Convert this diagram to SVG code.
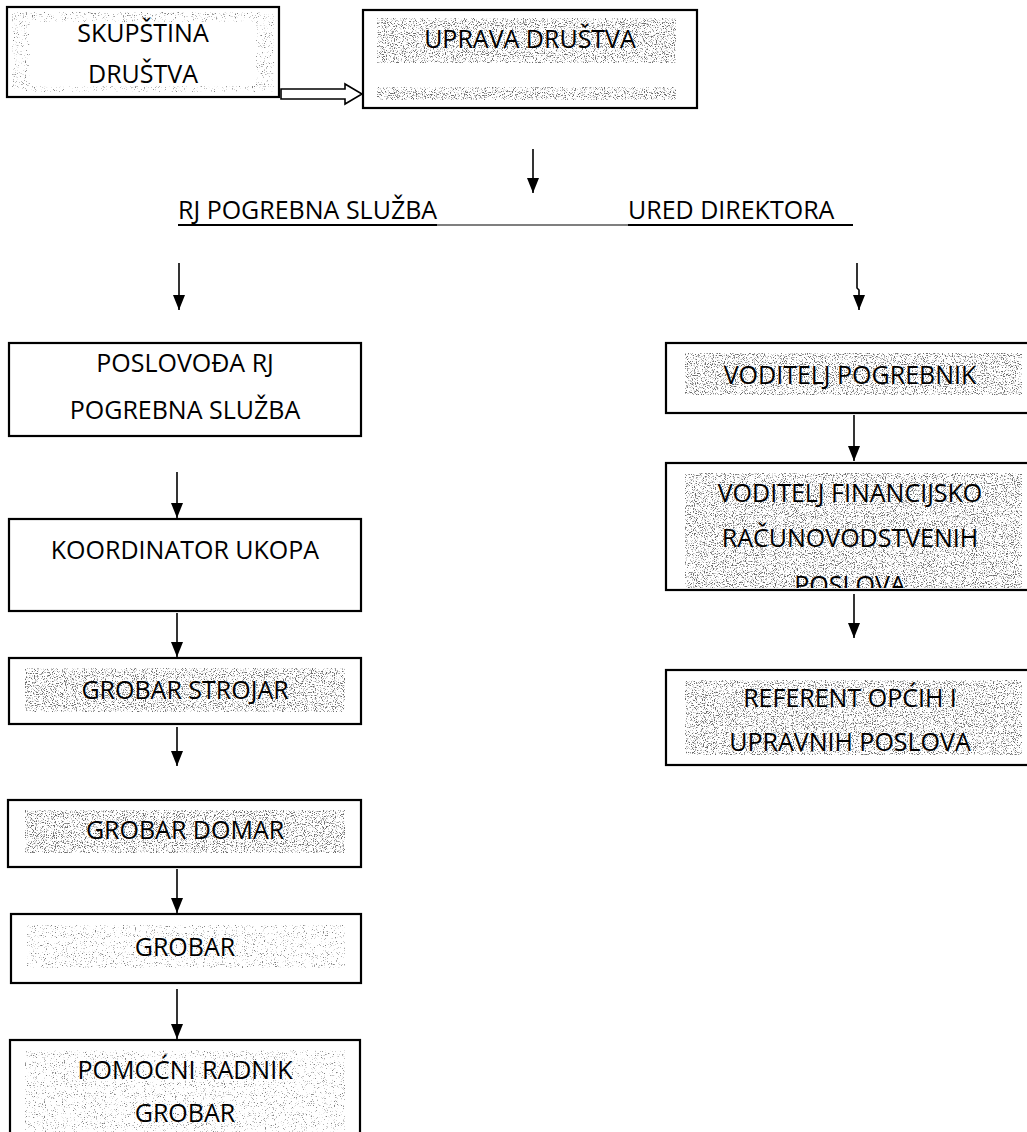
<svg xmlns="http://www.w3.org/2000/svg" width="1027" height="1132" viewBox="0 0 1027 1132">
<style>
.box{fill:#fff;stroke:#000;stroke-width:2.2}
.t{font-family:"Open Sans","Noto Sans","Liberation Sans",sans-serif;font-size:25px;fill:#000;text-anchor:middle}
.tl{font-family:"Open Sans","Noto Sans","Liberation Sans",sans-serif;font-size:25px;fill:#000}
.c{stroke:#000;stroke-width:1.6;fill:none}
.s{fill:#000;filter:url(#stip)}
.sl{fill:#000;filter:url(#stipL)}
</style>
<defs>
<filter id="stip" color-interpolation-filters="sRGB">
<feTurbulence type="fractalNoise" baseFrequency="0.9" numOctaves="2" seed="5" result="n"/>
<feColorMatrix in="n" type="matrix" values="0 0 0 0 0.42 0 0 0 0 0.42 0 0 0 0 0.42 6 0 0 0 -3.2" result="d"/>
<feComposite in="d" in2="SourceAlpha" operator="in"/>
</filter>
<filter id="stipL" color-interpolation-filters="sRGB">
<feTurbulence type="fractalNoise" baseFrequency="0.9" numOctaves="2" seed="11" result="n"/>
<feColorMatrix in="n" type="matrix" values="0 0 0 0 0.5 0 0 0 0 0.5 0 0 0 0 0.5 6 0 0 0 -3.7" result="d"/>
<feComposite in="d" in2="SourceAlpha" operator="in"/>
</filter>
<marker id="ah" viewBox="0 0 10 10" refX="10" refY="5" markerWidth="15" markerHeight="12" markerUnits="userSpaceOnUse" orient="auto" preserveAspectRatio="none">
<path d="M0,0 L10,5 L0,10 z" fill="#000"/>
</marker>
<clipPath id="finClip"><rect x="667" y="464" width="370" height="124"/></clipPath>
</defs>
<rect width="1027" height="1132" fill="#fff"/>

<g id="skupstina">
<rect class="box" x="7" y="7" width="272" height="90"/>
<path class="sl" fill-rule="evenodd" d="M12,12 H274 V92 H12 Z M30,22 H256 V86 H30 Z"/>
<text class="t" x="143" y="42">SKUPŠTINA</text>
<text class="t" x="143" y="83">DRUŠTVA</text>
</g>

<g id="uprava">
<rect class="box" x="363" y="10" width="334" height="98"/>
<rect class="s" x="377" y="18" width="299" height="45"/>
<rect class="s" x="377" y="87" width="299" height="13"/>
<text class="t" x="530" y="48">UPRAVA DRUŠTVA</text>
</g>

<g id="rj-pogrebna">
<text class="tl" x="178" y="219">RJ POGREBNA SLUŽBA</text>
</g>
<g id="ured-direktora">
<text class="tl" x="628" y="219">URED DIREKTORA</text>
</g>

<g id="poslovoda">
<rect class="box" x="9" y="343" width="352" height="93"/>
<text class="t" x="185" y="372">POSLOVOĐA RJ</text>
<text class="t" x="185" y="419">POGREBNA SLUŽBA</text>
</g>
<g id="koordinator">
<rect class="box" x="9" y="519" width="352" height="92"/>
<text class="t" x="185" y="559">KOORDINATOR UKOPA</text>
</g>
<g id="grobar-strojar">
<rect class="box" x="9" y="658" width="352" height="66"/>
<rect class="s" x="25" y="668" width="320" height="44"/>
<text class="t" x="185" y="699">GROBAR STROJAR</text>
</g>
<g id="grobar-domar">
<rect class="box" x="8" y="800" width="353" height="67"/>
<rect class="s" x="25" y="810" width="320" height="43"/>
<text class="t" x="185" y="839">GROBAR DOMAR</text>
</g>
<g id="grobar">
<rect class="box" x="11" y="914" width="350" height="69"/>
<rect class="sl" x="27" y="925" width="318" height="43"/>
<text class="t" x="185" y="956">GROBAR</text>
</g>
<g id="pomocni">
<rect class="box" x="10" y="1040" width="350" height="110"/>
<rect class="sl" x="25" y="1050" width="320" height="90"/>
<text class="t" x="185" y="1079">POMOĆNI RADNIK</text>
<text class="t" x="185" y="1122">GROBAR</text>
</g>

<g id="voditelj-pogrebnik">
<rect class="box" x="666" y="343" width="380" height="70"/>
<rect class="s" x="685" y="353" width="337" height="42"/>
<text class="t" x="850" y="384">VODITELJ POGREBNIK</text>
</g>
<g id="voditelj-financijsko">
<rect class="box" x="666" y="463" width="380" height="127"/>
<rect class="s" x="685" y="473" width="337" height="115"/>
<g clip-path="url(#finClip)">
<text class="t" x="850" y="502">VODITELJ FINANCIJSKO</text>
<text class="t" x="850" y="547">RAČUNOVODSTVENIH</text>
<text class="t" x="850" y="594">POSLOVA</text>
</g>
</g>
<g id="referent">
<rect class="box" x="666" y="670" width="380" height="95"/>
<rect class="s" x="685" y="680" width="337" height="75"/>
<text class="t" x="850" y="707">REFERENT OPĆIH I</text>
<text class="t" x="850" y="751">UPRAVNIH POSLOVA</text>
</g>

<g id="connectors">
<path d="M281,89 H345 V84 L362,94 L345,104 V99 H281 Z" fill="#fff" stroke="#000" stroke-width="1.6"/>
<line class="c" x1="533" y1="149" x2="533" y2="193" marker-end="url(#ah)"/>
<line x1="178" y1="225" x2="853" y2="225" stroke="#000" stroke-width="1.2"/>
<line x1="178" y1="225" x2="437" y2="225" stroke="#000" stroke-width="2"/>
<line x1="628" y1="225" x2="853" y2="225" stroke="#000" stroke-width="2"/>
<line class="c" x1="179" y1="263" x2="179" y2="310" marker-end="url(#ah)"/>
<path class="c" d="M857,263 V288 L859,290 V310" marker-end="url(#ah)"/>
<line class="c" x1="177" y1="472" x2="177" y2="518" marker-end="url(#ah)"/>
<line class="c" x1="177" y1="613" x2="177" y2="657" marker-end="url(#ah)"/>
<line class="c" x1="177" y1="727" x2="177" y2="766" marker-end="url(#ah)"/>
<line class="c" x1="177" y1="869" x2="177" y2="913" marker-end="url(#ah)"/>
<line class="c" x1="177" y1="989" x2="177" y2="1039" marker-end="url(#ah)"/>
<line class="c" x1="854" y1="415" x2="854" y2="461" marker-end="url(#ah)"/>
<line class="c" x1="854" y1="594" x2="854" y2="638" marker-end="url(#ah)"/>
</g>
</svg>
